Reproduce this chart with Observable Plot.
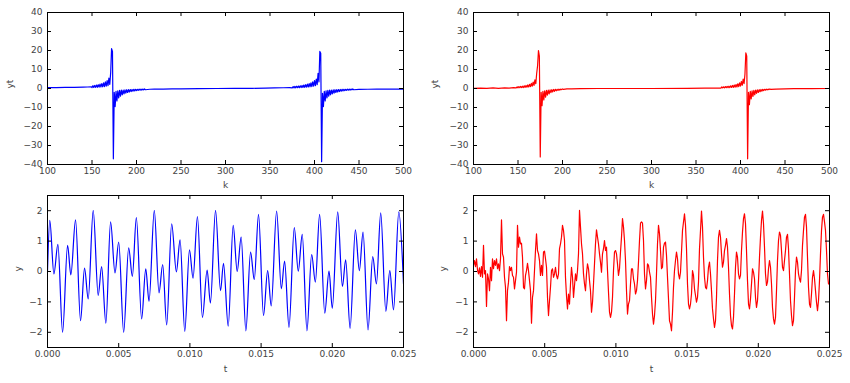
<!DOCTYPE html>
<html>
<head>
<meta charset="utf-8">
<script src="https://cdn.jsdelivr.net/npm/d3@7"></script>
<script src="https://cdn.jsdelivr.net/npm/@observablehq/plot@0.6"></script>
<style>
  html, body { margin: 0; padding: 0; background: #fff; }
  #fig { position: relative; width: 850px; height: 383px; background: #fff; overflow: hidden; }
  #fig svg { position: absolute; }
</style>
</head>
<body>
<div id="fig"></div>
<script>
// ---------- Top panels: yt vs k ----------
const kBlueTop = [100, 110, 120, 130, 140, 145, 149,
  ...d3.range(150, 211),
  215, 220, 230, 240, 250, 270, 290, 310, 330, 345, 355, 365, 372,
  ...d3.range(375, 445),
  450, 460, 470, 480, 490, 500];
const ytBlueTop = [0.5, 0.5, 0.55, 0.6, 0.7, 0.8, 0.9,
  0.5, 1.5, 0.55, 1.6, 0.6, 1.8, 0.65, 2.0, 0.7, 2.3,
  0.8, 2.6, 0.9, 3.0, 1.0, 3.5, 1.2, 4.2, 1.5, 5.5,
  2.2, 8.5, 21, 19.5, -37, -2, -9.5, -1.5, -6.5, -1.2,
  -5, -1.0, -4, -0.9, -3.3, -0.8, -2.8, -0.7, -2.4, -0.65,
  -2.1, -0.6, -1.8, -0.55, -1.6, -0.5, -1.4, -0.45, -1.25, -0.4,
  -1.1, -0.4, -1.0, -0.35, -0.9, -0.3, -0.8, -0.3, -0.7, -0.25,
  -0.65,
  -0.4, -0.35, -0.3, -0.2, -0.15, -0.1, 0, 0.05, 0.1, 0.2, 0.3, 0.4, 0.5,
  0.3, 1.0, 0.3, 1.1, 0.35, 1.2, 0.4, 1.3, 0.45, 1.4,
  0.5, 1.6, 0.55, 1.8, 0.6, 2.0, 0.7, 2.3, 0.8, 2.6,
  0.9, 3.0, 1.0, 3.5, 1.2, 4.2, 1.5, 5.0, 2.0, 8.0,
  3.5, 19.5, 18.5, -38.5, -2.5, -9.5, -1.5, -6.5, -1.2, -5,
  -1.0, -4, -0.9, -3.3, -0.8, -2.8, -0.7, -2.4, -0.65, -2.1,
  -0.6, -1.8, -0.55, -1.6, -0.5, -1.4, -0.45, -1.25, -0.4, -1.1,
  -0.4, -1.0, -0.35, -0.9, -0.3, -0.8, -0.3, -0.7, -0.25, -0.65,
  -0.45, -0.4, -0.35, -0.3, -0.3, -0.3];

const kRedTop = [100, 108, 115, 122, 128, 135, 140, 145,
  ...d3.range(148, 202),
  205, 210, 220, 240, 300, 340, 360, 370,
  ...d3.range(378, 435),
  440, 450, 460, 480, 500];
const ytRedTop = [0.1, 0.15, 0.05, 0.3, 0.1, 0.3, 0.2, 0.5,
  0.3, 0.9, 0.4, 1.0, 0.4, 1.1, 0.5, 1.2, 0.5, 1.4,
  0.6, 1.6, 0.7, 1.9, 0.8, 2.2, 1.0, 2.7, 1.2, 3.4,
  1.6, 4.5, 2.5, 8.0, 12, 20, 17, -36, -2, -9,
  -1.5, -6, -1.2, -4.5, -1.0, -3.5, -0.8, -2.8, -0.7, -2.2,
  -0.6, -1.8, -0.5, -1.5, -0.45, -1.2, -0.4, -1.0, -0.35, -0.8,
  -0.3, -0.6, -0.25, -0.5,
  -0.2, -0.15, -0.1, 0, 0, 0.05, 0.15, 0.25,
  0.2, 0.8, 0.3, 0.9, 0.35, 1.0, 0.4, 1.1, 0.45, 1.2,
  0.5, 1.4, 0.55, 1.6, 0.6, 1.8, 0.7, 2.1, 0.8, 2.5,
  1.0, 3.0, 1.3, 3.7, 1.7, 5.0, 2.5, 7.5, 18.8, 17,
  -37, -2, -8.5, -1.5, -5.5, -1.2, -4.2, -1.0, -3.3, -0.8,
  -2.6, -0.7, -2.1, -0.6, -1.7, -0.5, -1.4, -0.45, -1.1, -0.4,
  -0.9, -0.35, -0.75, -0.3, -0.6, -0.25, -0.5,
  -0.3, -0.2, -0.1, -0.05, 0];

const kTicks = [100, 150, 200, 250, 300, 350, 400, 450, 500];
const ytTicks = [-40, -30, -20, -10, 0, 10, 20, 30, 40];

// ---------- Bottom panels: y vs t ----------
// blue: turning points of the signal
const tBlue = [0, 0.00016, 0.00045, 0.00073, 0.00106, 0.00141, 0.00164, 0.00197, 0.00232, 0.0026,
  0.00286, 0.00321, 0.00356, 0.0038, 0.0041, 0.00443, 0.00474, 0.005, 0.00535, 0.0057,
  0.00596, 0.00624, 0.00661, 0.0069, 0.00713, 0.0075, 0.00783, 0.00809, 0.00837, 0.00872,
  0.00905, 0.00931, 0.00964, 0.00997, 0.01022, 0.01053, 0.01088, 0.01121, 0.01144, 0.0118,
  0.01215, 0.01236, 0.01269, 0.01304, 0.01332, 0.0136, 0.01393, 0.01426, 0.01452, 0.01482,
  0.01517, 0.01546, 0.01571, 0.01609, 0.01642, 0.01665, 0.01696, 0.01733, 0.01761, 0.01789,
  0.01822, 0.01855, 0.01881, 0.01911, 0.01947, 0.01977, 0.02, 0.02038, 0.02071, 0.02094,
  0.02125, 0.02162, 0.0219, 0.02216, 0.02251, 0.02284, 0.0231, 0.0234, 0.02376, 0.02404,
  0.0243, 0.02467, 0.025];
const yBlue = [0, 1.68, -0.08, 0.89, -2.0, 0.86, -0.11, 1.7, -1.62, 0.11,
  -0.9, 2.01, -0.79, 0.16, -1.7, 1.63, -0.05, 0.97, -2.0, 0.78,
  -0.16, 1.77, -1.56, 0.09, -0.98, 2.01, -0.7, 0.23, -1.76, 1.57,
  -0.01, 1.04, -1.97, 0.71, -0.22, 1.81, -1.51, 0.05, -1.04, 2.01,
  -0.63, 0.27, -1.8, 1.52, 0.0, 1.13, -1.95, 0.64, -0.27, 1.88,
  -1.45, 0.03, -1.13, 1.99, -0.57, 0.34, -1.84, 1.44, 0.01, 1.22,
  -1.95, 0.56, -0.35, 1.88, -1.37, 0.01, -1.21, 1.96, -0.49, 0.38,
  -1.87, 1.37, 0.03, 1.3, -1.92, 0.49, -0.41, 1.93, -1.31, 0.03,
  -1.26, 1.96, -0.4];

// red: values read on an even time grid from 0 to 0.025 s (357 samples)
const yRed = [0.20, 0.36, 0.16, 0.42, 0.05, -0.08, 0.12, -0.16, 0.16, -0.19,
  0.86, -0.08, 0.03, -1.15, -0.08, -0.24, -0.63, 0.14, -0.30, 0.42,
  0.09, 0.36, 0.20, 0.42, 0.09, 0.25, 0.03, 0.42, 1.70, 0.58,
  0.47, -0.19, -0.52, -1.62, -0.63, -0.35, 0.16, 0.03, 0.14, -0.13,
  -0.19, -0.57, -0.30, -0.02, 1.52, 0.80, 1.13, 0.91, 0.93, 0.47,
  -0.52, -0.57, -0.13, 0.03, 0.27, 0.03, -0.30, -0.63, -1.70, -0.85,
  -0.63, 0.03, 0.69, 1.24, 0.69, 0.58, 0.36, -0.13, 0.20, -0.13,
  0.64, 0.67, 0.42, 0.14, -0.85, -1.45, -0.96, -0.52, 0.03, 0.09,
  -0.19, -0.08, 0.14, -0.13, -0.24, -0.08, 0.75, 0.91, 1.13, 1.52,
  1.35, 1.02, -0.2, -0.8, -1.23, -0.74, -1.07, -0.41, 0.14, -0.19,
  -0.85, -0.46, -0.08, -0.30, 0.03, 0.58, 2.01, 1.46, 0.91, 0.58,
  -0.08, -0.41, -0.63, -0.08, 0.25, 0.09, -0.30, -0.63, -1.34, -1.01,
  -0.41, 0.25, 0.91, 1.37, 1.13, 0.91, 0.58, 0.31, -0.02, 0.58,
  0.75, 1.02, 0.69, 0.80, 0.03, -0.68, -1.34, -1.51, -1.34, -0.85,
  0.03, 0.64, 0.69, 0.58, 0.25, -0.13, 0.09, 0.64, 1.13, 1.74,
  1.46, 1.02, 0.36, -0.63, -1.40, -1.07, -0.96, -0.41, 0.09, 0.09,
  -0.24, -0.41, -0.74, -0.63, -0.30, 0.31, 1.02, 1.59, 1.63, 1.59,
  1.02, -0.08, -0.57, -0.30, 0.25, 0.20, -0.02, -0.19, -0.85, -1.40,
  -1.73, -1.45, -0.96, -0.08, 0.91, 1.52, 1.24, 0.69, 0.09, 0.14,
  0.80, 0.93, 0.97, 0.53, -0.19, -0.90, -1.62, -1.73, -1.95, -1.34,
  -0.52, 0.03, 0.36, 0.64, 0.42, -0.08, -0.24, -0.02, 0.64, 1.35,
  1.63, 1.90, 1.52, 0.75, -0.41, -1.07, -1.23, -1.07, -0.74, 0.03,
  -0.13, -0.57, -0.79, -1.01, -0.85, -0.35, 0.75, 1.35, 1.99, 1.46,
  0.47, -0.19, -0.52, -0.57, -0.30, 0.14, 0.31, -0.08, -0.63, -1.23,
  -1.56, -1.84, -1.62, -0.85, 0.36, 1.13, 1.35, 1.13, 0.58, 0.14,
  0.31, 0.69, 0.86, 1.08, 0.80, 0.14, -0.74, -1.45, -1.78, -1.89,
  -1.51, -0.74, 0.14, 0.64, 0.47, -0.08, -0.24, -0.13, 0.69, 1.30,
  1.74, 1.90, 1.57, 0.69, -0.30, -1.07, -1.23, -0.90, -0.41, 0.09,
  -0.02, -0.24, -0.85, -1.18, -0.96, -0.30, 0.47, 1.13, 1.68, 1.99,
  1.57, 0.80, -0.08, -0.46, -0.35, 0.09, 0.36, 0.14, -0.41, -1.18,
  -1.56, -1.73, -1.51, -0.63, 0.36, 1.02, 1.30, 1.19, 0.69, 0.14,
  0.03, 0.36, 0.69, 1.13, 1.22, 0.75, -0.08, -0.96, -1.45, -1.78,
  -1.62, -0.85, 0.03, 0.47, 0.31, -0.08, -0.24, -0.35, 0.03, 0.86,
  1.35, 1.79, 1.88, 1.46, 0.47, -0.52, -1.07, -1.18, -0.74, -0.19,
  0.03, -0.24, -0.63, -1.01, -1.29, -0.96, -0.30, 0.58, 1.35, 1.79,
  1.88, 1.63, 1.35, 0.69, -0.08, -0.41, -0.40];
const tRed = d3.range(yRed.length).map(i => i * 0.025 / (yRed.length - 1)); // sample grid

const tTicks = [0, 0.005, 0.01, 0.015, 0.02, 0.025];
const yTicks = [-2, -1, 0, 1, 2];

// ---------- drawing ----------
const minus = v => (v < 0 ? "\u2212" + Math.abs(v) : String(v));
const TEXT = "#444";

function panel(o) {
  const plotH = o.height - o.mT - o.mB;
  const plotW = o.width - o.mL - o.mR;
  const data = o.xs.map((x, i) => ({x, y: o.ys[i]}));
  const svg = Plot.plot({
    width: o.width, height: o.height,
    marginLeft: o.mL, marginRight: o.mR, marginTop: o.mT, marginBottom: o.mB,
    x: {domain: o.xDomain, axis: null},
    y: {domain: o.yDomain, axis: null},
    style: {fontFamily: "'DejaVu Sans', sans-serif", fontSize: "9px", color: TEXT, background: "transparent"},
    marks: [
      Plot.line(data, {x: "x", y: "y", stroke: o.color, strokeWidth: 1.2, curve: o.curve || "linear", clip: true}),
      Plot.ruleX(o.xTicks, {x: d => d, insetTop: plotH - 4, stroke: "black"}),
      Plot.ruleX(o.xTicks, {x: d => d, insetBottom: plotH - 4, stroke: "black"}),
      Plot.ruleY(o.yTicks, {y: d => d, insetRight: plotW - 4, stroke: "black"}),
      Plot.ruleY(o.yTicks, {y: d => d, insetLeft: plotW - 4, stroke: "black"}),
      Plot.frame({stroke: "black", strokeWidth: 1}),
      Plot.text(o.xTicks, {x: d => d, frameAnchor: "bottom", dy: 9, text: o.xFmt, fill: TEXT}),
      Plot.text(o.yTicks, {y: d => d, frameAnchor: "left", dx: -5, textAnchor: "end", text: o.yFmt, fill: TEXT}),
      Plot.text([o.xLabel], {frameAnchor: "bottom", dy: o.xLabelDy, text: d => d, fill: TEXT}),
      Plot.text([o.yLabel], {frameAnchor: "left", dx: o.yLabelDx, rotate: -90, text: d => d, fill: TEXT})
    ]
  });
  svg.style.left = o.left + "px";
  svg.style.top = o.top + "px";
  document.getElementById("fig").appendChild(svg);
}

const topCommon = {width: 425, height: 191, mT: 12, mB: 27, xDomain: [100, 500], yDomain: [-40, 40],
  xTicks: kTicks, yTicks: ytTicks, xFmt: d => String(d), yFmt: minus, xLabel: "k", yLabel: "yt", xLabelDy: 23, top: 0};
const botCommon = {width: 425, height: 192, mT: 4, mB: 36, xDomain: [0, 0.025], yDomain: [-2.5, 2.5],
  xTicks: tTicks, yTicks: yTicks, xFmt: d => d.toFixed(3), yFmt: minus, xLabel: "t", yLabel: "y", xLabelDy: 24, top: 191};

panel({...topCommon, left: 0, mL: 47, mR: 22, xs: kBlueTop, ys: ytBlueTop, color: "#0000ff", yLabelDx: -37});
panel({...topCommon, left: 425, mL: 48, mR: 21, xs: kRedTop, ys: ytRedTop, color: "#ff0000", yLabelDx: -38});
panel({...botCommon, left: 0, mL: 47, mR: 22, xs: tBlue, ys: yBlue, color: "#0000ff", curve: "monotone-x", yLabelDx: -29});
panel({...botCommon, left: 425, mL: 48, mR: 21, xs: tRed, ys: yRed, color: "#ff0000", yLabelDx: -30});
</script>
</body>
</html>
